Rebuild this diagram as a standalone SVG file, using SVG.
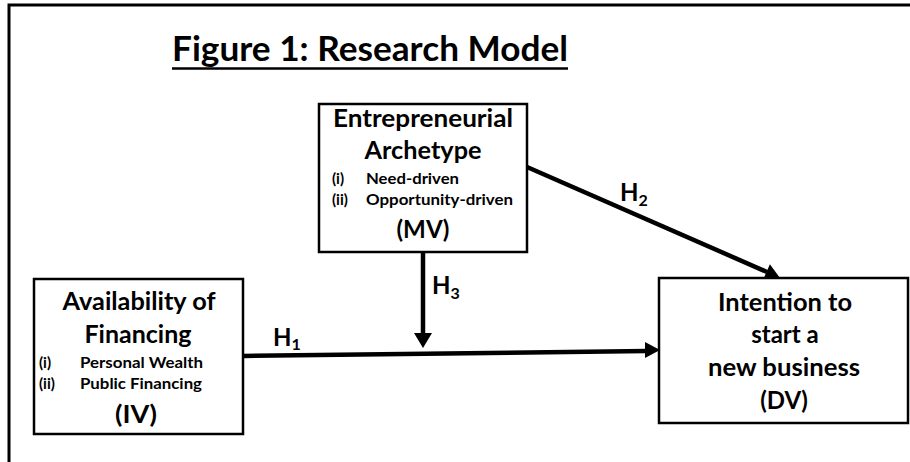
<svg xmlns="http://www.w3.org/2000/svg" width="910" height="462" viewBox="0 0 910 462">
<style>
text{font-family:"Lato","Open Sans","Liberation Sans",sans-serif;font-weight:bold;fill:#000}
.big{font-size:24px;text-anchor:middle}
.sm{font-size:15px}
.h{font-size:24px}
.sub{font-size:16px}
.box{fill:#fff;stroke:#000;stroke-width:2.5}
.ln{stroke:#000;stroke-width:4.5;fill:none}
.hd{fill:#000}
</style>
<rect width="910" height="462" fill="#fff"/>
<rect x="9" y="5" width="910" height="470" fill="none" stroke="#000" stroke-width="3"/>
<g id="title">
<text x="172" y="61" font-size="34" textLength="396" lengthAdjust="spacingAndGlyphs">Figure 1: Research Model</text>
<line x1="172" y1="68.5" x2="568" y2="68.5" stroke="#000" stroke-width="2.5"/>
</g>
<g id="connectors">
<line class="ln" x1="243" y1="356" x2="647" y2="351"/>
<polygon class="hd" points="660,350 645,342 645,358"/>
<line class="ln" x1="423" y1="252" x2="423" y2="335"/>
<polygon class="hd" points="423,348 414,333 432,333"/>
<line class="ln" x1="527" y1="167" x2="767" y2="272"/>
<polygon class="hd" points="780,278 763.1,279.8 769.9,264.2"/>
<text class="h" x="273" y="346">H<tspan class="sub" dy="4">1</tspan></text>
<text class="h" x="432" y="294">H<tspan class="sub" dy="5">3</tspan></text>
<text class="h" x="620" y="201">H<tspan class="sub" dy="5">2</tspan></text>
</g>
<g id="mv">
<rect class="box" x="319" y="104" width="208" height="148"/>
<text class="big" x="423" y="127" textLength="180" lengthAdjust="spacingAndGlyphs">Entrepreneurial</text>
<text class="big" x="423" y="159" textLength="117" lengthAdjust="spacingAndGlyphs">Archetype</text>
<text class="sm" x="332" y="184">(i)</text>
<text class="sm" x="366" y="184" textLength="93" lengthAdjust="spacingAndGlyphs">Need-driven</text>
<text class="sm" x="332" y="205">(ii)</text>
<text class="sm" x="366" y="205" textLength="147" lengthAdjust="spacingAndGlyphs">Opportunity-driven</text>
<text class="big" x="423" y="238" textLength="53" lengthAdjust="spacingAndGlyphs">(MV)</text>
</g>
<g id="iv">
<rect class="box" x="34" y="279" width="209" height="155"/>
<text class="big" x="139" y="310" textLength="153" lengthAdjust="spacingAndGlyphs">Availability of</text>
<text class="big" x="138" y="343" textLength="107" lengthAdjust="spacingAndGlyphs">Financing</text>
<text class="sm" x="39" y="368">(i)</text>
<text class="sm" x="80" y="368" textLength="123" lengthAdjust="spacingAndGlyphs">Personal Wealth</text>
<text class="sm" x="39" y="389">(ii)</text>
<text class="sm" x="80" y="389" textLength="122" lengthAdjust="spacingAndGlyphs">Public Financing</text>
<text class="big" x="136" y="423" textLength="42" lengthAdjust="spacingAndGlyphs">(IV)</text>
</g>
<g id="dv">
<rect class="box" x="659" y="278" width="249" height="145"/>
<text class="big" x="785" y="311" textLength="134" lengthAdjust="spacingAndGlyphs">Intention to</text>
<text class="big" x="785" y="343">start a</text>
<text class="big" x="784" y="376" textLength="152" lengthAdjust="spacingAndGlyphs">new business</text>
<text class="big" x="784" y="409">(DV)</text>
</g>
</svg>
